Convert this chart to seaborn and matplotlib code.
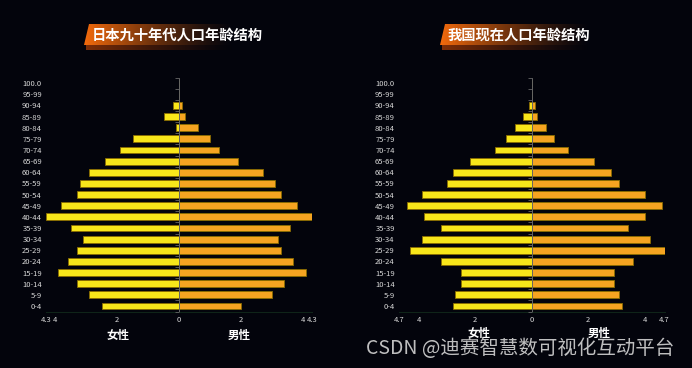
import numpy as np
import pandas as pd
import matplotlib.pyplot as plt
import seaborn as sns
from matplotlib.patches import Polygon

ages = ["100.0", "95-99", "90-94", "85-89", "80-84", "75-79", "70-74", "65-69",
        "60-64", "55-59", "50-54", "45-49", "40-44", "35-39", "30-34", "25-29",
        "20-24", "15-19", "10-14", "5-9", "0-4"]

jp_female = [0, 0, 0.2, 0.5, 0.1, 1.5, 1.9, 2.4, 2.9, 3.2, 3.3, 3.8, 4.3, 3.5, 3.1, 3.3, 3.6, 3.9, 3.3, 2.9, 2.5]
jp_male = [0, 0, 0.1, 0.2, 0.6, 1.0, 1.3, 1.9, 2.7, 3.1, 3.3, 3.8, 4.3, 3.6, 3.2, 3.3, 3.7, 4.1, 3.4, 3.0, 2.0]
cn_female = [0, 0, 0.1, 0.3, 0.6, 0.9, 1.3, 2.2, 2.8, 3.0, 3.9, 4.4, 3.8, 3.2, 3.9, 4.3, 3.2, 2.5, 2.5, 2.7, 2.8]
cn_male = [0, 0, 0.1, 0.2, 0.5, 0.8, 1.3, 2.2, 2.8, 3.1, 4.0, 4.6, 4.0, 3.4, 4.2, 4.7, 3.6, 2.9, 2.9, 3.1, 3.2]

titles = ["日本九十年代人口年龄结构", "我国现在人口年龄结构"]

BG = "#03040c"
YELLOW = "#f8e61a"
ORANGE = "#f5a421"

sns.set_style("dark")
plt.rcParams["font.family"] = ["Noto Sans CJK SC", "DejaVu Sans"]

fig = plt.figure(figsize=(6.92, 3.68), dpi=100, facecolor=BG)

# overlay in pixel coordinates for the title badges and labels
ov = fig.add_axes([0, 0, 1, 1], zorder=0)
ov.set_xlim(0, 692)
ov.set_ylim(368, 0)
ov.axis("off")


def badge(x0, x1, y0, y1, slant, rgb, alpha_max):
    n = 256
    t = np.linspace(0, 1, n)
    alpha = alpha_max * np.clip(1 - t, 0, 1) ** 1.3
    img = np.zeros((2, n, 4))
    img[..., 0], img[..., 1], img[..., 2] = rgb
    img[..., 3] = alpha
    poly = Polygon([(x0 + slant, y0), (x1, y0), (x1, y1), (x0, y1)],
                   closed=True, transform=ov.transData, facecolor="none", edgecolor="none")
    ov.add_patch(poly)
    im = ov.imshow(img, extent=[x0, x1, y1, y0], aspect="auto", interpolation="bilinear")
    im.set_clip_path(poly)


def pyramid(rect, female, male, lim, ticks, tick_labels):
    ax = fig.add_axes(rect, zorder=2)
    ax.set_facecolor("none")
    df = pd.DataFrame({
        "age": ages * 2,
        "value": [-v for v in female] + list(male),
        "sex": ["女性"] * len(ages) + ["男性"] * len(ages),
    })
    sns.barplot(data=df, x="value", y="age", hue="sex", order=ages,
                palette={"女性": YELLOW, "男性": ORANGE}, dodge=False, saturation=1,
                orient="h", width=0.62, edgecolor="#8a6c00", linewidth=0.6,
                legend=False, ax=ax)
    ax.set_xlim(-lim, lim)
    ax.set_ylim(len(ages) - 0.5, -0.5)
    ax.axvline(0, color="#666666", lw=0.7, zorder=3)
    ax.plot(np.full(len(ages) + 1, -0.06), np.arange(-0.5, len(ages)), ls="none",
            marker="_", ms=3, color="#666666", mew=0.6, zorder=3)
    ax.set_xticks(ticks)
    ax.set_xticklabels(tick_labels)
    ax.tick_params(axis="x", length=0, pad=3, labelsize=5.5, colors="#d8d8d8")
    ax.tick_params(axis="y", length=0, pad=3, labelsize=5.5, colors="#d8d8d8")
    ax.set_xlabel("")
    ax.set_ylabel("")
    ax.grid(False)
    for s in ["top", "left", "right"]:
        ax.spines[s].set_visible(False)
    ax.spines["bottom"].set_color("#0f2419")
    ax.spines["bottom"].set_linewidth(0.8)
    return ax


pyramid([46 / 692, 1 - 311.6 / 368, 266 / 692, 234 / 368], jp_female, jp_male, 4.3,
        [-4.3, -4, -2, 0, 2, 4, 4.3], ["4.3", "4", "2", "0", "2", "4", "4.3"])
pyramid([398.9 / 692, 1 - 311.6 / 368, 265.6 / 692, 234 / 368], cn_female, cn_male, 4.7,
        [-4.7, -4, -2, 0, 2, 4, 4.7], ["4.7", "4", "2", "0", "2", "4", "4.7"])

# title badges
badge(84, 235, 24, 45, 5, (0.96, 0.42, 0.05), 1.0)
badge(86, 235, 45, 50, 0, (0.55, 0.20, 0.03), 0.9)
badge(440, 591, 24, 45, 5, (0.96, 0.42, 0.05), 1.0)
badge(442, 591, 45, 50, 0, (0.55, 0.20, 0.03), 0.9)
ov.text(92, 36, titles[0], color="white", fontsize=10.3, fontweight="bold", va="center", ha="left")
ov.text(448, 36, titles[1], color="white", fontsize=10.3, fontweight="bold", va="center", ha="left")

# sex labels
for x, lab, y in [(118, "女性", 335), (239, "男性", 335), (479, "女性", 333), (599, "男性", 333)]:
    ov.text(x, y, lab, color="white", fontsize=8.3, fontweight="bold", ha="center", va="center")

ov.text(366, 348, "CSDN @迪赛智慧数可视化互动平台", color="#d4d4d4", alpha=0.9,
        fontsize=14, ha="left", va="center")

fig.savefig("out.png", dpi=100, facecolor=BG)
